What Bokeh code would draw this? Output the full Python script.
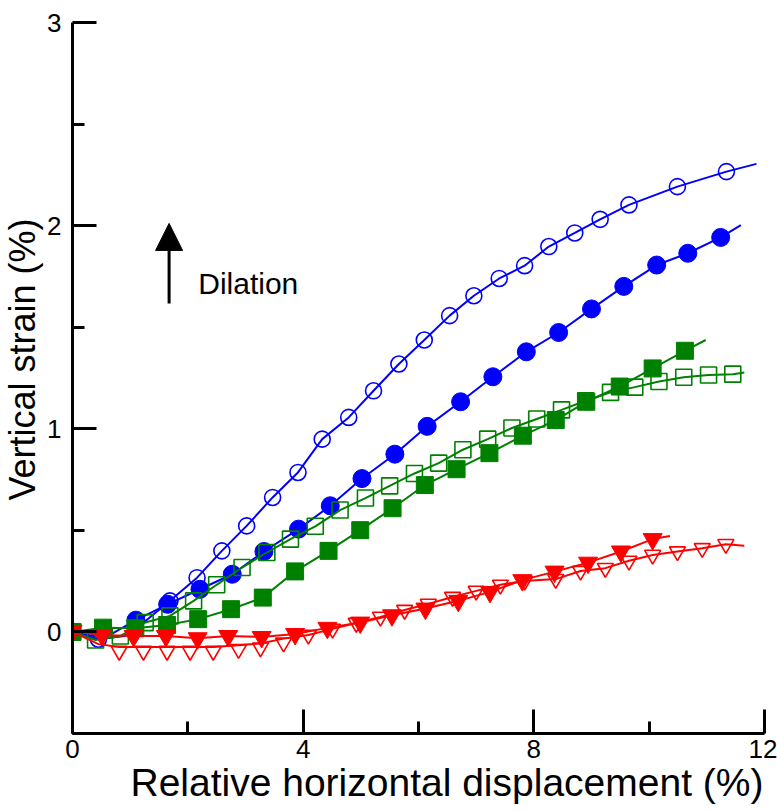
from bokeh.plotting import figure
from bokeh.models import Range1d, FixedTicker, Label, Arrow, NormalHead, Title
from bokeh.embed import file_html
from bokeh.resources import INLINE

FONT = "Liberation Sans"

# ---- data ----
# blue, open circles
bo_x = [0.45, 1.69, 2.16, 2.59, 3.02, 3.47, 3.91, 4.33, 4.79, 5.22, 5.66, 6.10, 6.54,
        6.96, 7.40, 7.84, 8.26, 8.71, 9.15, 9.65, 10.49, 11.34]
bo_y = [-0.036, 0.153, 0.267, 0.399, 0.522, 0.662, 0.785, 0.949, 1.056, 1.187, 1.319,
        1.437, 1.557, 1.655, 1.740, 1.803, 1.897, 1.964, 2.031, 2.102, 2.192, 2.266]
bo_line_x = [0.0, 0.45, 0.90, 1.25, 1.69, 2.16, 2.59, 3.02, 3.47, 3.91, 4.33, 4.79, 5.22,
             5.66, 6.10, 6.54, 6.96, 7.40, 7.84, 8.26, 8.71, 9.15, 9.65, 10.49, 11.34, 11.86]
bo_line_y = [0.0, -0.036, -0.02, 0.05, 0.153, 0.267, 0.399, 0.522, 0.662, 0.785, 0.949,
             1.056, 1.187, 1.319, 1.437, 1.557, 1.655, 1.740, 1.803, 1.897, 1.964, 2.031,
             2.102, 2.192, 2.266, 2.304]

# blue, filled circles
bf_x = [1.10, 1.65, 2.21, 2.77, 3.32, 3.92, 4.47, 5.02, 5.59, 6.15, 6.73, 7.29, 7.87,
        8.43, 9.00, 9.56, 10.13, 10.67, 11.24]
bf_y = [0.058, 0.136, 0.210, 0.284, 0.396, 0.506, 0.621, 0.755, 0.875, 1.012, 1.133,
        1.256, 1.379, 1.474, 1.590, 1.701, 1.806, 1.864, 1.942]
bf_line_x = [0.0, 0.55] + bf_x + [11.59]
bf_line_y = [0.0, -0.03] + bf_y + [2.003]

# green, open squares
go_x = [0.0, 0.40, 0.83, 1.26, 1.69, 2.10, 2.50, 2.94, 3.37, 3.78, 4.21, 4.64, 5.08, 5.50,
        5.93, 6.35, 6.77, 7.20, 7.62, 8.05, 8.48, 8.90, 9.33, 9.75, 10.17, 10.60, 11.03, 11.45]
go_y = [0.0, -0.04, -0.02, 0.046, 0.079, 0.153, 0.232, 0.317, 0.391, 0.457, 0.520, 0.600,
        0.659, 0.719, 0.780, 0.831, 0.897, 0.949, 1.004, 1.048, 1.093, 1.138, 1.179, 1.205,
        1.233, 1.254, 1.265, 1.269]
go_line_x = go_x + [11.65]
go_line_y = go_y + [1.277]

# green, filled squares
gf_x = [0.0, 0.53, 1.09, 1.64, 2.18, 2.75, 3.30, 3.86, 4.44, 4.99, 5.55, 6.11, 6.66, 7.23,
        7.81, 8.38, 8.91, 9.49, 10.06, 10.62]
gf_y = [0.0, 0.021, 0.018, 0.034, 0.063, 0.112, 0.169, 0.298, 0.399, 0.501, 0.609, 0.723,
        0.801, 0.880, 0.966, 1.043, 1.133, 1.208, 1.297, 1.384]
gf_line_x = gf_x + [10.98]
gf_line_y = gf_y + [1.437]

# red, open inverted triangles
ro_x = [0.81, 1.23, 1.64, 2.04, 2.44, 2.88, 3.26, 3.66, 4.09, 4.51, 4.92, 5.34, 5.76, 6.17,
        6.59, 7.00, 7.42, 7.84, 8.38, 8.81, 9.24, 9.65, 10.06, 10.49, 10.92, 11.33]
ro_y = [-0.094, -0.094, -0.094, -0.094, -0.094, -0.085, -0.077, -0.053, -0.015, 0.015,
        0.044, 0.074, 0.108, 0.138, 0.172, 0.202, 0.232, 0.251, 0.260, 0.300, 0.314, 0.350,
        0.379, 0.396, 0.412, 0.432]
ro_line_x = [0.0, 0.45, 0.81, 1.23, 1.64, 2.04, 2.44, 2.88, 3.26, 3.66, 4.09, 4.51, 4.92,
             5.34, 5.76, 6.17, 6.59, 7.00, 7.42, 7.84, 8.38, 8.81, 9.24, 9.65, 10.06, 10.49,
             10.92, 11.33, 11.65]
ro_line_y = [0.0, -0.06, -0.074, -0.074, -0.074, -0.074, -0.074, -0.065, -0.057, -0.033,
             -0.015, 0.015, 0.044, 0.074, 0.108, 0.138, 0.172, 0.202, 0.232, 0.251, 0.260,
             0.300, 0.314, 0.350, 0.379, 0.396, 0.412, 0.432, 0.424]

# red, filled inverted triangles
rf_x = [0.0, 0.51, 1.06, 1.62, 2.17, 2.70, 3.28, 3.86, 4.42, 4.99, 5.54, 6.12, 6.69, 7.24,
        7.80, 8.36, 8.94, 9.51, 10.06]
rf_y = [0.005, -0.015, -0.020, -0.020, -0.031, -0.020, -0.025, -0.010, 0.020, 0.046, 0.082,
        0.115, 0.153, 0.197, 0.255, 0.297, 0.341, 0.396, 0.457]
rf_line_x = rf_x + [10.36]
rf_line_y = rf_y + [0.472]

x_major = [0, 4, 8, 12]
x_minor = [2, 6, 10]
y_major = [0, 1, 2, 3]
y_minor = [-0.5, 0.5, 1.5, 2.5]

X_TITLE = "Relative horizontal displacement (%)"
Y_TITLE = "Vertical strain (%)"
NOTE = "Dilation"

BLUE = "#0000FF"
GREEN = "#008000"
RED = "#FF0000"

p = figure(width=777, height=811, x_range=Range1d(0, 12), y_range=Range1d(-0.5, 3),
           output_backend="svg", toolbar_location=None,
           min_border_left=72, min_border_right=13, min_border_top=22, min_border_bottom=78)
p.outline_line_color = None
p.xgrid.visible = False
p.ygrid.visible = False
p.background_fill_color = "white"
p.border_fill_color = "white"

for ax, maj, mnr in ((p.xaxis[0], x_major, x_minor), (p.yaxis[0], y_major, y_minor)):
    ax.ticker = FixedTicker(ticks=maj, minor_ticks=mnr)
    ax.axis_line_width = 3
    ax.axis_line_color = "black"
    ax.major_tick_line_width = 3
    ax.minor_tick_line_width = 3
    ax.major_tick_in = 24
    ax.major_tick_out = 0
    ax.minor_tick_in = 12
    ax.minor_tick_out = 0
    ax.major_label_text_font = FONT
    ax.major_label_text_font_size = "26px"
    ax.major_label_text_color = "black"
p.xaxis.major_label_standoff = 6
p.yaxis.major_label_standoff = 11

# axis titles as side titles
p.add_layout(Title(text=X_TITLE, align="left", offset=58, standoff=0,
                   text_font=FONT, text_font_size="39px", text_font_style="normal",
                   text_color="black", vertical_align="top"), "below")
p.add_layout(Title(text=Y_TITLE, align="left", offset=233, standoff=0,
                   text_font=FONT, text_font_size="36px", text_font_style="normal",
                   text_color="black", vertical_align="top"), "left")

# series: lines then markers
def series(lx, ly, mx, my, color, marker, filled, size):
    p.line(lx, ly, line_color=color, line_width=2)
    if filled:
        p.scatter(mx, my, marker=marker, size=size, fill_color=color, line_color=color)
    else:
        p.scatter(mx, my, marker=marker, size=size, fill_color=None, line_color=color,
                  line_width=1.6)

series(bo_line_x, bo_line_y, bo_x, bo_y, BLUE, "circle", False, 16)
series(bf_line_x, bf_line_y, bf_x, bf_y, BLUE, "circle", True, 18)
series(go_line_x, go_line_y, go_x, go_y, GREEN, "square", False, 16)
series(gf_line_x, gf_line_y, gf_x, gf_y, GREEN, "square", True, 17)
series(ro_line_x, ro_line_y, ro_x, ro_y, RED, "inverted_triangle", False, 16)
series(rf_line_x, rf_line_y, rf_x, rf_y, RED, "inverted_triangle", True, 19)

# arrow + annotation
p.add_layout(Arrow(end=NormalHead(size=27, fill_color="black", line_color="black"),
                   x_start=1.675, y_start=1.617, x_end=1.675, y_end=2.011,
                   line_width=3, line_color="black"))
p.add_layout(Label(x=2.18, y=1.714, text=NOTE, text_font=FONT,
                   text_font_size="30px", text_baseline="alphabetic", text_color="black"))

open("out.html", "w").write(file_html(p, INLINE))
